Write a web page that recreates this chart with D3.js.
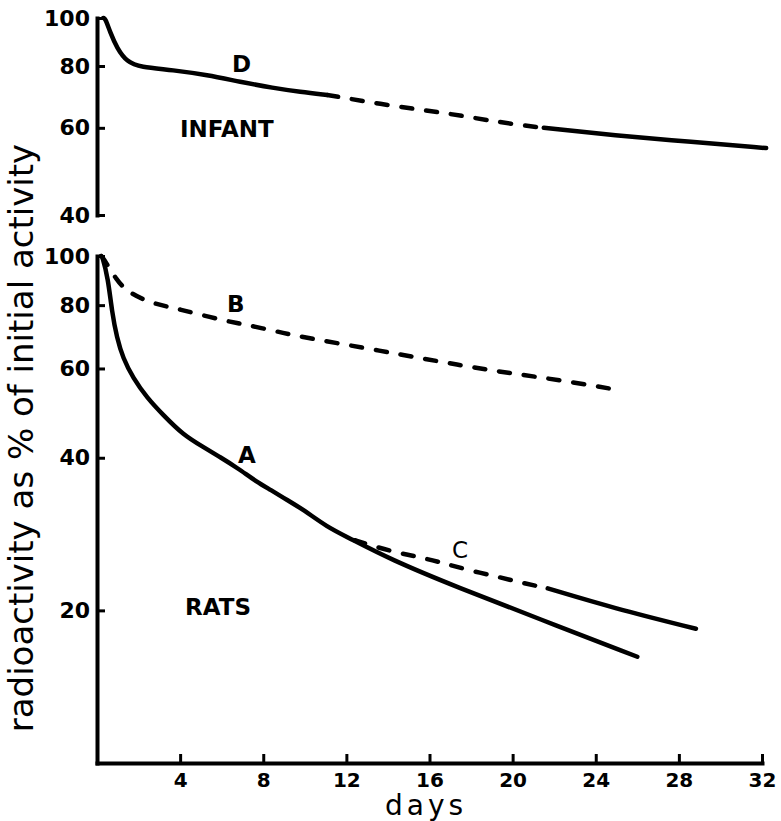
<!DOCTYPE html>
<html>
<head>
<meta charset="utf-8">
<script src="https://cdn.jsdelivr.net/npm/d3@7"></script>
<style>
  body { margin: 0; background: #fff; }
  .axis path, .axis line { stroke: #000; }
  .axis path { stroke-width: 4; stroke-linecap: square; }
  .axis line { stroke-width: 3; }
  .axis text { font-family: "DejaVu Sans", sans-serif; font-weight: bold; fill: #000; }
  .curve { fill: none; stroke: #000; stroke-width: 4.5; stroke-linecap: round; stroke-linejoin: round; }
  .curve--dashed { stroke-dasharray: 11 14; }
  .label { font-family: "DejaVu Sans", sans-serif; font-weight: bold; font-size: 23px; fill: #000; }
</style>
</head>
<body>
<svg id="chart" width="781" height="821"></svg>
<script>
'use strict';

// Tick labels.
var dayTicks = [4, 8, 12, 16, 20, 24, 28, 32];
var infantTicks = [40, 60, 80, 100];
var ratTicks = [20, 40, 60, 80, 100];

// Curve D (infant), radioactivity as % of initial activity against days.
var infantDays   = [0.3, 0.39, 0.63, 0.96, 1.45, 2.07, 3.66, 5.30, 6.89, 8.48, 9.78, 11.08, 14.5, 16.9, 19.5, 21.5, 24.9, 28.6, 32.2];
var infantValues = [100, 100, 93.7, 86.9, 81.5, 79.6, 78.5, 76.7, 74.3, 72.2, 70.9, 69.9, 66.1, 64.2, 61.4, 60.0, 57.9, 56.2, 54.6];
var infantDashed = [11.08, 21.5];

// Curve A (rats, solid).
var ratADays   = [0.2, 0.25, 0.53, 0.72, 0.96, 1.25, 1.73, 2.41, 3.18, 4.14, 5.11, 5.93, 6.75, 7.71, 8.34, 9.16, 9.93, 11.08, 12.05, 14.12, 17.35, 21.2, 26.0, 26.0];
var ratAValues = [100, 100, 90.5, 77.5, 68.9, 62.9, 57.5, 52.5, 48.6, 44.4, 42.0, 40.1, 38.2, 35.8, 34.6, 33.0, 31.6, 29.2, 27.9, 25.2, 22.2, 19.3, 16.2, 16.2];

// Curve B (rats, dashed all the way).
var ratBDays   = [0.2, 0.25, 0.96, 1.49, 2.55, 3.76, 4.87, 6.22, 7.23, 8.58, 9.64, 11.23, 14.75, 17.35, 19.76, 22.31, 25.1, 25.1];
var ratBValues = [100, 100, 89.3, 84.9, 80.8, 78.9, 76.8, 74.4, 73.1, 71.1, 69.5, 67.7, 63.8, 61.0, 58.8, 56.9, 54.4, 54.4];

// Curve C (rats, branches off A).
var ratCDays   = [12.4, 12.4, 14.2, 15.47, 16.67, 17.88, 19.28, 20.39, 21.69, 21.69, 24.87, 28.82, 28.82];
var ratCValues = [27.5, 27.5, 26.1, 25.5, 24.8, 24.0, 23.3, 22.7, 22.1, 22.1, 20.2, 18.4, 18.4];
var ratCDashed = [12.4, 21.69];

(function() {

  var svg = d3.select('#chart');

  var x = d3.scaleLinear().domain([0, 32]).range([97, 762]);
  var yInfant = d3.scaleLog().domain([40, 100]).range([215, 18]);
  var yRats = d3.scaleLog().domain([10, 100]).range([763, 256]);

  /**
   * Turns two parallel arrays into point objects.
   */
  function points(days, values) {
    return d3.zip(days, values).map(function(p) { return {day: p[0], value: p[1]}; });
  }

  function styleTicks(g, size) {
    g.attr('font-size', null).attr('font-family', null);
    g.selectAll('text').style('font-size', size + 'px');
  }

  // Axes.
  svg.append('g')
      .attr('class', 'axis')
      .attr('transform', 'translate(' + x(0) + ',0)')
      .call(d3.axisLeft(yInfant).tickValues(infantTicks).tickSize(-8).tickSizeOuter(0)
              .tickPadding(7).tickFormat(d3.format('d')))
      .call(styleTicks, 22);

  svg.append('g')
      .attr('class', 'axis')
      .attr('transform', 'translate(' + x(0) + ',0)')
      .call(d3.axisLeft(yRats).tickValues(ratTicks).tickSize(-8).tickSizeOuter(0)
              .tickPadding(7).tickFormat(d3.format('d')))
      .call(styleTicks, 22);

  svg.append('g')
      .attr('class', 'axis')
      .attr('transform', 'translate(0,' + yRats(10) + ')')
      .call(d3.axisBottom(x).tickValues(dayTicks).tickSize(-9).tickSizeOuter(0).tickPadding(10))
      .call(styleTicks, 20);

  /**
   * Draws a curve; `dashed` is true (all dashed), null (all solid)
   * or a [from, to] range of days drawn dashed.
   */
  function drawCurve(data, y, dashed) {
    var line = d3.line()
        .x(function(d) { return x(d.day); })
        .y(function(d) { return y(d.value); })
        .curve(d3.curveBasis);

    if (dashed === true) {
      svg.append('path').attr('class', 'curve curve--dashed').attr('d', line(data));
      return;
    }
    svg.append('path')
        .attr('class', 'curve')
        .attr('d', line.defined(function(d) {
          return !dashed || d.day <= dashed[0] || d.day >= dashed[1];
        })(data));
    if (dashed) {
      svg.append('path')
          .attr('class', 'curve curve--dashed')
          .attr('d', line.defined(function(d) {
            return d.day >= dashed[0] && d.day <= dashed[1];
          })(data));
    }
  }

  drawCurve(points(infantDays, infantValues), yInfant, infantDashed);
  drawCurve(points(ratADays, ratAValues), yRats, null);
  drawCurve(points(ratBDays, ratBValues), yRats, true);
  drawCurve(points(ratCDays, ratCValues), yRats, ratCDashed);

  // Labels.
  var labels = [
    {text: 'D', x: 232, y: 72},
    {text: 'INFANT', x: 180, y: 137},
    {text: 'B', x: 227, y: 312},
    {text: 'A', x: 238, y: 463},
    {text: 'C', x: 452, y: 558, weight: 'normal'},
    {text: 'RATS', x: 185, y: 615}
  ];
  svg.selectAll('.label').data(labels).enter()
      .append('text')
      .attr('class', 'label')
      .attr('x', function(d) { return d.x; })
      .attr('y', function(d) { return d.y; })
      .style('font-weight', function(d) { return d.weight || 'bold'; })
      .text(function(d) { return d.text; });

  svg.append('text')
      .attr('transform', 'translate(33,438) rotate(-90)')
      .attr('text-anchor', 'middle')
      .style('font-family', '"DejaVu Sans", sans-serif')
      .style('font-size', '34px')
      .text('radioactivity as % of initial activity');

  svg.append('text')
      .attr('x', 426)
      .attr('y', 815)
      .attr('text-anchor', 'middle')
      .style('font-family', '"DejaVu Sans", sans-serif')
      .style('font-size', '28px')
      .style('letter-spacing', '4px')
      .text('days');

}());
</script>
</body>
</html>
